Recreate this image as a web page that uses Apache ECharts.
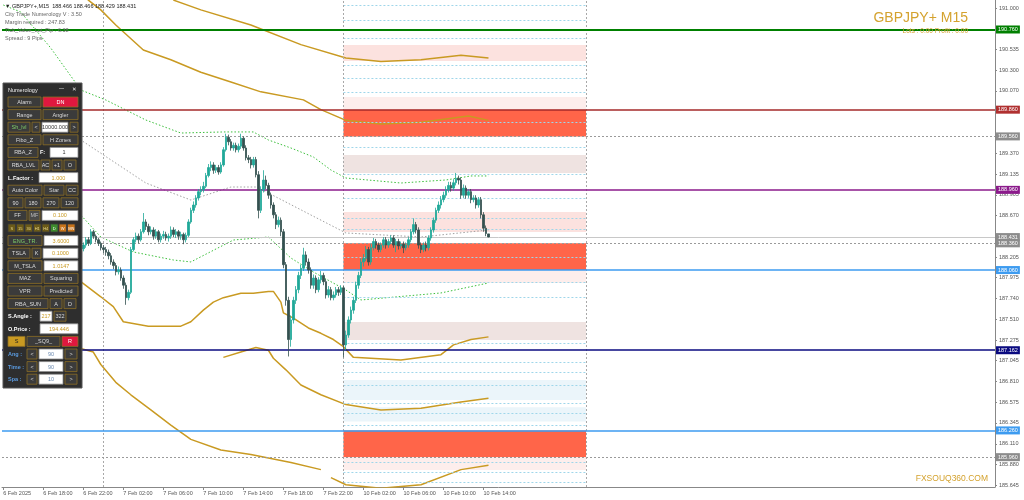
<!DOCTYPE html>
<html><head><meta charset="utf-8">
<script src="https://cdn.jsdelivr.net/npm/echarts@6/dist/echarts.min.js"></script>
<style>html,body{margin:0;padding:0;background:#fff}#c{width:1024px;height:500px}</style>
</head><body><div id="c"></div>
<script>
// ---------------- DATA ----------------
const symbolTitle = 'GBPJPY+ M15';
const headerLines = ['\u25BC GBPJPY+,M15  188.466 188.466 188.429 188.431','City Trade Numerology V : 3.50','Margin required : 247.83','Tick_Value_Lot_Pip : 6.38','Spread : 9 Pips'];
const lotsText = 'Lots : 0.00 Profit : 0.00';
const watermark = 'FXSOUQ360.COM';

const sessions = [['6 Feb', 56, 96], ['7 Feb', 0, 96], ['10 Feb', 0, 96], ['11 Feb', 0, 96], ['12 Feb', 0, 96]];
const xTickCats = ['6 Feb 14:00','6 Feb 18:00','6 Feb 22:00','7 Feb 02:00','7 Feb 06:00','7 Feb 10:00','7 Feb 14:00','7 Feb 18:00','7 Feb 22:00','10 Feb 02:00','10 Feb 06:00','10 Feb 10:00','10 Feb 14:00'];
const xTickTexts = ['6 Feb 2025','6 Feb 18:00','6 Feb 22:00','7 Feb 02:00','7 Feb 06:00','7 Feb 10:00','7 Feb 14:00','7 Feb 18:00','7 Feb 22:00','10 Feb 02:00','10 Feb 06:00','10 Feb 10:00','10 Feb 14:00'];
const yTicks = [191.000,190.535,190.300,190.070,189.370,189.135,188.905,188.670,188.205,187.975,187.740,187.510,187.275,187.045,186.810,186.575,186.345,186.110,185.880,185.645];

// candles [open, close, low, high]; first 32 bars are hidden behind the panel
const hiddenBars = 32;
const ohlc = [
[188.30,188.34,188.27,188.37],[188.34,188.40,188.31,188.43],[188.40,188.36,188.33,188.43],[188.36,188.49,188.34,188.52],
[188.49,188.44,188.41,188.51],[188.44,188.40,188.37,188.46],[188.40,188.36,188.33,188.42],[188.36,188.31,188.28,188.38],
[188.31,188.29,188.25,188.34],[188.29,188.26,188.22,188.32],[188.26,188.22,188.18,188.29],[188.22,188.15,188.12,188.25],
[188.15,188.11,188.07,188.18],[188.11,188.04,188.00,188.14],[188.04,188.06,188.01,188.10],[188.06,187.97,187.94,188.09],
[187.97,187.89,187.85,188.00],[187.89,187.75,187.67,187.92],[187.75,187.81,187.72,187.84],[187.81,188.29,187.79,188.32],
[188.29,188.40,188.27,188.43],[188.40,188.44,188.37,188.48],[188.44,188.40,188.36,188.47],[188.40,188.49,188.38,188.52],
[188.49,188.60,188.47,188.70],[188.60,188.55,188.51,188.63],[188.55,188.49,188.45,188.58],[188.49,188.51,188.46,188.55],
[188.51,188.44,188.40,188.54],[188.44,188.49,188.41,188.52],[188.49,188.40,188.37,188.51],[188.40,188.44,188.37,188.47],
[188.44,188.46,188.41,188.50],[188.46,188.42,188.39,188.49],[188.42,188.44,188.38,188.47],[188.44,188.51,188.41,188.55],
[188.51,188.46,188.43,188.54],[188.46,188.49,188.42,188.52],[188.49,188.44,188.40,188.51],[188.44,188.46,188.40,188.49],
[188.46,188.40,188.35,188.48],[188.40,188.45,188.37,188.48],[188.45,188.60,188.43,188.63],[188.60,188.73,188.58,188.76],
[188.73,188.79,188.70,188.83],[188.79,188.87,188.76,188.90],[188.87,188.94,188.84,188.97],[188.94,188.96,188.90,189.00],
[188.96,189.00,188.93,189.05],[189.00,189.12,188.98,189.15],[189.12,189.21,189.10,189.25],[189.21,189.24,189.17,189.28],
[189.24,189.18,189.14,189.27],[189.18,189.21,189.15,189.24],[189.21,189.16,189.13,189.24],[189.16,189.24,189.14,189.27],
[189.24,189.41,189.22,189.44],[189.41,189.55,189.39,189.59],[189.55,189.50,189.46,189.58],[189.50,189.43,189.40,189.53],
[189.43,189.46,189.40,189.49],[189.46,189.41,189.38,189.49],[189.41,189.45,189.38,189.48],[189.45,189.54,189.42,189.59],
[189.54,189.43,189.40,189.56],[189.43,189.32,189.29,189.46],[189.32,189.30,189.26,189.35],[189.30,189.24,189.20,189.33],
[189.24,189.30,189.21,189.33],[189.30,189.13,189.10,189.33],[189.13,188.73,188.64,189.17],[188.73,188.96,188.70,189.00],
[188.96,189.07,188.93,189.18],[189.07,189.01,188.97,189.12],[189.01,188.90,188.86,189.04],[188.90,188.79,188.75,188.93],
[188.79,188.68,188.64,188.82],[188.68,188.57,188.52,188.71],[188.57,188.62,188.54,188.66],[188.62,188.49,188.44,188.65],
[188.49,188.12,188.08,188.52],[188.12,187.72,187.66,188.15],[187.72,187.28,187.09,187.76],[187.28,187.50,187.20,187.55],
[187.50,187.72,187.46,187.76],[187.72,187.84,187.68,187.88],[187.84,188.00,187.80,188.04],[188.00,188.08,187.96,188.12],
[188.08,188.23,188.05,188.31],[188.23,188.15,188.11,188.27],[188.15,188.06,188.02,188.19],[188.06,187.89,187.85,188.09],
[187.89,187.97,187.85,188.01],[187.97,187.84,187.80,188.00],[187.84,187.95,187.81,187.98],[187.95,188.00,187.91,188.05],
[188.00,187.93,187.89,188.03],[187.93,187.78,187.74,187.96],[187.78,187.84,187.75,187.88],[187.84,187.75,187.72,187.87],
[187.75,187.78,187.72,187.82],[187.78,187.84,187.75,187.87],[187.84,187.81,187.77,187.87],[187.81,187.86,187.78,187.89],
[187.86,187.22,187.08,187.88],[187.22,187.33,187.16,187.38],[187.33,187.50,187.30,187.54],[187.50,187.61,187.46,187.65],
[187.61,187.72,187.57,187.76],[187.72,187.89,187.69,187.93],[187.89,188.00,187.85,188.04],[188.00,188.15,187.97,188.19],
[188.15,188.19,188.10,188.24],[188.19,188.29,188.16,188.33],[188.29,188.15,188.11,188.32],[188.15,188.31,188.12,188.35],
[188.31,188.38,188.28,188.42],[188.38,188.34,188.30,188.41],[188.34,188.29,188.26,188.37],[188.29,188.34,188.26,188.37],
[188.34,188.40,188.31,188.43],[188.40,188.34,188.30,188.43],[188.34,188.38,188.31,188.41],[188.38,188.42,188.35,188.45],
[188.42,188.34,188.31,188.45],[188.34,188.38,188.26,188.41],[188.38,188.33,188.29,188.41],[188.33,188.35,188.30,188.38],
[188.35,188.31,188.25,188.38],[188.31,188.34,188.28,188.37],[188.34,188.40,188.31,188.43],[188.40,188.49,188.37,188.52],
[188.49,188.57,188.46,188.64],[188.57,188.51,188.47,188.60],[188.51,188.34,188.30,188.54],[188.34,188.29,188.25,188.37],
[188.29,188.34,188.26,188.37],[188.34,188.31,188.27,188.38],[188.31,188.42,188.28,188.45],[188.42,188.51,188.39,188.54],
[188.51,188.62,188.48,188.65],[188.62,188.73,188.59,188.76],[188.73,188.79,188.70,188.83],[188.79,188.85,188.75,188.89],
[188.85,188.90,188.82,188.94],[188.90,188.96,188.87,189.00],[188.96,189.01,188.93,189.05],[189.01,188.98,188.94,189.05],
[188.98,189.04,188.95,189.08],[189.04,189.09,189.01,189.15],[189.09,189.07,189.02,189.12],[189.07,188.90,188.86,189.10],
[188.90,188.98,188.87,189.02],[188.98,188.90,188.86,189.01],[188.90,188.94,188.87,188.97],[188.94,188.85,188.81,188.97],
[188.85,188.87,188.82,188.90],[188.87,188.79,188.75,188.90],[188.79,188.85,188.76,188.88],[188.85,188.68,188.64,188.88],
[188.68,188.53,188.49,188.71],[188.53,188.47,188.44,188.56],[188.466,188.431,188.429,188.466]
];

// indicator lines: [barIndex, price]
const goldUpperA = [[32,191.20],[34,191.09],[39,190.98],[45,190.81],[56,190.53],[67,190.42],[79,190.28],[91,190.17],[103,190.06],[120,189.97],[127,189.86],[137,189.74],[151,189.70],[167,189.72],[186,189.79],[194,189.74]];
const goldUpperB = [[68,191.09],[79,190.98],[99,190.81],[119,190.59],[137,190.44],[151,190.40],[167,190.42],[183,190.47],[194,190.44]];
const goldMid = [[31,187.93],[39,187.76],[44,187.65],[48,187.48],[58,187.43],[71,187.43],[75,187.48],[80,187.61],[84,187.70],[88,187.75],[95,187.80],[100,187.80],[106,187.82],[108,187.82],[111,187.70],[112,187.58],[116,187.52],[122,187.41],[127,187.35],[132,187.28],[136,187.20],[140,187.08],[159,187.05],[175,187.11],[180,187.22],[187,187.28],[194,187.31]];
const goldLowA = [[31,187.18],[36,187.14],[39,187.00],[45,186.80],[51,186.66],[59,186.49],[67,186.32],[75,186.16],[87,186.04],[99,185.99],[115,185.90],[127,185.82]];
const goldLowB = [[88,187.08],[95,187.14],[101,187.19],[106,187.16],[108,187.07],[113,186.94],[119,186.77],[127,186.66],[137,186.55],[151,186.49],[167,186.51],[183,186.58],[194,186.62]];
const goldLowC = [[131,185.73],[137,185.65],[151,185.61],[167,185.65],[183,185.82],[194,185.87]];
const greenUpper = [[0,191.035],[7,190.956],[19,190.552],[31,190.081],[41,189.969],[57,189.744],[71,189.598],[88,189.610],[100,189.610],[106,189.520],[115,189.430],[124,189.329],[131,189.183],[137,189.093],[159,189.037],[177,189.071],[187,189.116],[194,189.116]];
const greyMid = [[0,189.800],[31,189.520],[57,189.037],[75,188.846],[91,188.992],[101,188.992],[106,188.925],[123,188.678],[137,188.476],[167,188.431],[194,188.510]];
const greenLower = [[0,188.903],[31,188.678],[39,188.431],[52,188.263],[68,188.173],[75,188.151],[92,188.397],[106,188.431],[115,188.195],[124,188.038],[137,187.836],[143,187.724],[175,187.803],[194,187.915]];

// horizontal levels
const levelPrices = [190.760, 189.860, 189.560, 188.960, 188.431, 188.360, 188.060, 187.162, 186.260, 185.960];
const levelTexts  = ['190.760','189.860','189.560','188.960','188.431','188.360','188.060','187.162','186.260','185.960'];
const levelZoneLabels = ['360','270','265','180','','120','90','358.00 | 187.162 >> 18716','90',''];
// zones in the projection window
const zoneStart = '10 Feb 00:00', zoneEnd = '11 Feb 00:15';
const zoneLow  = [190.406, 189.868, 189.560, 189.150, 188.487, 188.060, 187.915, 187.275, 186.602, 186.360, 185.960, 185.816];
const zoneHigh = [190.586, 190.002, 189.860, 189.351, 188.712, 188.360, 188.060, 187.477, 186.826, 186.520, 186.260, 185.960];
const zoneKinds = ['pink','lpink','solid','grey','pink','solid','lpink','grey','blue','blue','solid','lpink'];
const fineLevels = [191.035,190.867,190.665,190.362,190.216,190.058,189.722,189.441,189.138,188.869,188.644,188.521,188.207,187.926,187.758,187.241,187.028,186.916,186.770,186.568,186.456,186.321,185.906,185.794,185.682];
const daySeparators = ['7 Feb 00:00', '10 Feb 00:00', '11 Feb 00:15'];

// panel
const panelTitle = 'Numerology';
const panelRows = [
 [['Alarm','btn',33],['DN','red',35]],
 [['Range','btn',33],['Angler','btn',35]],
 [['Sh_lvl','btnG',22],['<','btn',8],['10000.000','inD',26],['>','btn',8]],
 [['Fibo_Z','btn',33],['H Zones','btn',35]],
 [['RBA_Z','btn',30],['F:','lab',8],['1','inD',28]],
 [['RBA_LVL','btn',31],['AC','btn',9],['+1','btn',10],['O','btn',12]],
 [['L.Factor :','lab',29],['1.000','in',39]],
 [['Auto Color','btn',34],['Star','btn',20],['CC','btn',12]],
 [['90','btn',15],['180','btn',16],['270','btn',16],['120','btn',17]],
 [['FF','btn',19],['MF','btnD',11],['0.100','in',36]],
 [['S','tf1',7.5],['15','tf1',7.5],['30','tf1',7.5],['H1','tf1',7.5],['H4','tf1',7.5],['D','tf2',7.5],['W','tf3',7.5],['MN','tf3',7.5]],
 [['ENG_TR.','btnG',34],['3.6000','in',34]],
 [['TSLA','btn',22],['K','btn',9],['0.1000','in',35]],
 [['M_TSLA','btn',34],['1.0147','in',34]],
 [['MAZ','btn',34],['Squaring','btn',34]],
 [['VPR','btn',34],['Predicted','btn',34]],
 [['RBA_SUN','btn',40],['A','btn',12],['D','btn',12]],
 [['S.Angle :','lab',30],['217','in',12],['322','btn',12]],
 [['O.Price :','lab',30],['194.446','in',38]],
 [['S','gold',17],['_SQ9_','btn',33],['R','red',16]],
 [['Ang :','labB',17],['<','btn',10],['90','inB',24],['>','btn',12]],
 [['Time :','labB',17],['<','btn',10],['90','inB',24],['>','btn',12]],
 [['Spa :','labB',17],['<','btn',10],['10','inB',24],['>','btn',12]]
];

// ---------------- BUILD ----------------
const categories = [];
for (const [d, s, e] of sessions) for (let q = s; q < e; q++) {
  categories.push(d + ' ' + String(Math.floor(q / 4)).padStart(2, '0') + ':' + String((q % 4) * 15).padStart(2, '0'));
}
categories.length = 397;
const tickMap = {}; xTickCats.forEach((c, i) => tickMap[c] = xTickTexts[i]);
const candleData = [];
for (let i = 0; i < hiddenBars; i++) candleData.push('-');
ohlc.forEach(r => candleData.push(r));

const FONT = 'Liberation Sans, Arial, sans-serif';
const GOLD = '#c99a22';

const levelStyle = [
 {c:'#008000', w:2, t:'solid', box:'#008000', lc:'#2e9b2e'},
 {c:'#a52a2a', w:1.5, t:'solid', box:'#b03030', lc:'#a52a2a'},
 {c:'#9a9a9a', w:1, t:[2,2], box:'#8c8c8c', lc:'#999'},
 {c:'#8b1a8b', w:1.5, t:'solid', box:'#8b1a8b', lc:'#a040a0'},
 {c:'#c8c8c8', w:1, t:'solid', box:'#8c8c8c', lc:'#999'},
 {c:'#9a9a9a', w:1, t:[2,2], box:'#8c8c8c', lc:'#999'},
 {c:'#3d9bf0', w:1.5, t:'solid', box:'#3d9bf0', lc:'#3d7be0'},
 {c:'#0a0a80', w:1.5, t:'solid', box:'#0a0a80', lc:'#3a9a3a'},
 {c:'#3d9bf0', w:1.5, t:'solid', box:'#3d9bf0', lc:'#3d7be0'},
 {c:'#9a9a9a', w:1, t:[2,2], box:'#8c8c8c', lc:'#999'}
];
const zoneColors = {solid:'#ff6549', pink:'#fce2df', lpink:'#fdeeec', grey:'#efe3e1', blue:'#ebf5fa'};

const levelLines = levelPrices.map((p, i) => ({
  yAxis: p,
  lineStyle: {color: levelStyle[i].c, width: levelStyle[i].w, type: levelStyle[i].t},
  label: {show: true, position: 'end', distance: 1, formatter: levelTexts[i], color: '#fff',
          backgroundColor: levelStyle[i].box, padding: [1.5, 2, 0.5, 2], fontSize: 5.5, fontFamily: FONT}
}));
const zoneLabelLines = levelPrices.map((p, i) => [
  {coord: [zoneStart, p], lineStyle: {opacity: 0},
   label: {show: !!levelZoneLabels[i], position: 'insideStartTop', distance: [3, 1], formatter: levelZoneLabels[i],
           color: levelStyle[i].lc, fontSize: 5.5, fontFamily: FONT}},
  {coord: [zoneEnd, p]}
]);
const fineLines = fineLevels.map(p => [
  {coord: [zoneStart, p], lineStyle: {color: '#9fd6ea', width: 1, type: [2, 2]}, label: {show: false}},
  {coord: [zoneEnd, p]}
]);
const vLines = daySeparators.map(c => ({xAxis: c, lineStyle: {color: '#a8a8a8', width: 1, type: [2, 2]}, label: {show: false}}));
const areas = zoneLow.map((lo, i) => [
  {xAxis: zoneStart, yAxis: lo, itemStyle: {color: zoneColors[zoneKinds[i]]}},
  {xAxis: zoneEnd, yAxis: zoneHigh[i]}
]);

function goldSeries(d) {
  return {type: 'line', data: d, symbol: 'none', silent: true, z: 4, animation: false,
          lineStyle: {color: GOLD, width: 1.5}};
}
function dotSeries(d, color) {
  return {type: 'line', data: d, symbol: 'none', silent: true, z: 3, animation: false,
          lineStyle: {color: color, width: 1, type: [1.5, 2]}};
}

// panel graphics
const panel = [];
const px0 = 3, py0 = 83, pw = 79, ph = 305;
panel.push({type: 'rect', shape: {x: px0, y: py0, width: pw, height: ph}, style: {fill: '#2e2e2e', stroke: '#555', lineWidth: 1}, z: 100});
panel.push({type: 'text', style: {x: 8, y: 90, text: panelTitle, fill: '#eee', font: '5.5px ' + FONT, verticalAlign: 'middle'}, z: 101});
panel.push({type: 'text', style: {x: 59, y: 89, text: '\u2014', fill: '#eee', font: '5px ' + FONT, verticalAlign: 'middle'}, z: 101});
panel.push({type: 'text', style: {x: 72, y: 90, text: '\u2715', fill: '#eee', font: '5.5px DejaVu Sans', verticalAlign: 'middle'}, z: 101});
const sty = {
  btn: {f:'#3b3b3b', s:'#8d6f25', t:'#d9d9d9'}, btnG: {f:'#3b3b3b', s:'#8d6f25', t:'#7fcf6a'},
  btnD: {f:'#4a4a4a', s:'#8d6f25', t:'#bbb'},
  red: {f:'#e0183f', s:'#8d6f25', t:'#fff'}, gold: {f:'#c99a22', s:'#8d6f25', t:'#222'},
  in: {f:'#ffffff', s:'#888', t:'#c99a22'}, inD: {f:'#ffffff', s:'#888', t:'#333'}, inB: {f:'#ffffff', s:'#888', t:'#6a8ab0'},
  lab: {f:null, s:null, t:'#ffffff'}, labB: {f:null, s:null, t:'#5b9be0'},
  tf1: {f:'#6b5a18', s:'#3a3a3a', t:'#e8d890'}, tf2: {f:'#3d8b2d', s:'#3a3a3a', t:'#fff'}, tf3: {f:'#c8741a', s:'#3a3a3a', t:'#fff'}
};
panelRows.forEach((row, r) => {
  const small = row[0][1].startsWith('tf');
  const y = 97 + 12.6 * r + (small ? 1 : 0);
  const h = small ? 8 : 10;
  let x = 8;
  row.forEach(([txt, kind, w]) => {
    const s = sty[kind];
    if (s.f) panel.push({type: 'rect', shape: {x: x, y: y, width: w, height: h}, style: {fill: s.f, stroke: s.s, lineWidth: 0.8}, z: 101});
    const isLab = kind.startsWith('lab');
    panel.push({type: 'text', style: {x: isLab ? x : x + w / 2, y: y + h / 2 + 0.5, text: txt, fill: s.t,
      font: (isLab ? 'bold ' : '') + (small ? '4px ' : '5.5px ') + FONT, align: isLab ? 'left' : 'center', verticalAlign: 'middle'}, z: 102});
    x += w + (small ? 1 : 2);
  });
});

const graphics = panel.concat([
  ...headerLines.map((t, i) => ({type: 'text', z: 110, style: {x: 5, y: 6 + i * 8, text: t, fill: i === 0 ? '#222' : '#666', font: '5.5px ' + FONT, verticalAlign: 'middle'}})),
  {type: 'text', z: 110, style: {x: 968, y: 18, text: symbolTitle, fill: '#d4a22e', font: '14px ' + FONT, align: 'right', verticalAlign: 'middle'}},
  {type: 'text', z: 110, style: {x: 968, y: 31, text: lotsText, fill: '#d4a22e', font: '6.5px ' + FONT, align: 'right', verticalAlign: 'middle'}},
  {type: 'text', z: 110, style: {x: 988, y: 479, text: watermark, fill: '#d4a22e', font: '8.5px ' + FONT, align: 'right', verticalAlign: 'middle'}}
]);

const chart = echarts.init(document.getElementById('c'), null, {renderer: 'canvas'});
chart.setOption({
  animation: false,
  backgroundColor: '#ffffff',
  grid: {left: 2, right: 29, top: 0, bottom: 13},
  xAxis: {
    type: 'category', data: categories, boundaryGap: true,
    axisLine: {show: true, lineStyle: {color: '#888', width: 1}},
    axisTick: {show: true, alignWithLabel: true, length: 3, interval: (i, v) => tickMap[v] !== undefined, lineStyle: {color: '#888'}},
    axisLabel: {show: true, interval: (i, v) => tickMap[v] !== undefined, formatter: v => tickMap[v] || '', align: 'left', margin: 3,
                fontSize: 5.5, color: '#555', fontFamily: FONT, hideOverlap: false},
    splitLine: {show: false}
  },
  yAxis: {
    type: 'value', position: 'right', min: 185.625, max: 191.091, scale: true,
    axisLine: {show: true, lineStyle: {color: '#888', width: 1}},
    axisTick: {show: true, length: 2, customValues: yTicks, lineStyle: {color: '#888'}},
    axisLabel: {show: true, customValues: yTicks, formatter: v => v.toFixed(3), fontSize: 5.5, color: '#555', fontFamily: FONT, margin: 4},
    splitLine: {show: false}
  },
  series: [
    {type: 'line', data: [], silent: true, z: 1,
     markArea: {silent: true, data: areas},
     markLine: {silent: true, symbol: 'none', animation: false, data: fineLines.concat(vLines)}},
    dotSeries(greenUpper, '#3cbf3c'), dotSeries(greyMid, '#a0a0a0'), dotSeries(greenLower, '#3cbf3c'),
    goldSeries(goldUpperA), goldSeries(goldUpperB), goldSeries(goldMid), goldSeries(goldLowA), goldSeries(goldLowB), goldSeries(goldLowC),
    {type: 'candlestick', data: candleData, barWidth: 2, z: 5, silent: true,
     itemStyle: {color: '#1fa898', color0: '#33504f', borderColor: '#1fa898', borderColor0: '#33504f', borderWidth: 0.8}},
    {type: 'line', data: [], silent: true, z: 6,
     markLine: {silent: true, symbol: 'none', animation: false, data: levelLines.concat(zoneLabelLines)}}
  ],
  graphic: graphics
});
</script></body></html>
